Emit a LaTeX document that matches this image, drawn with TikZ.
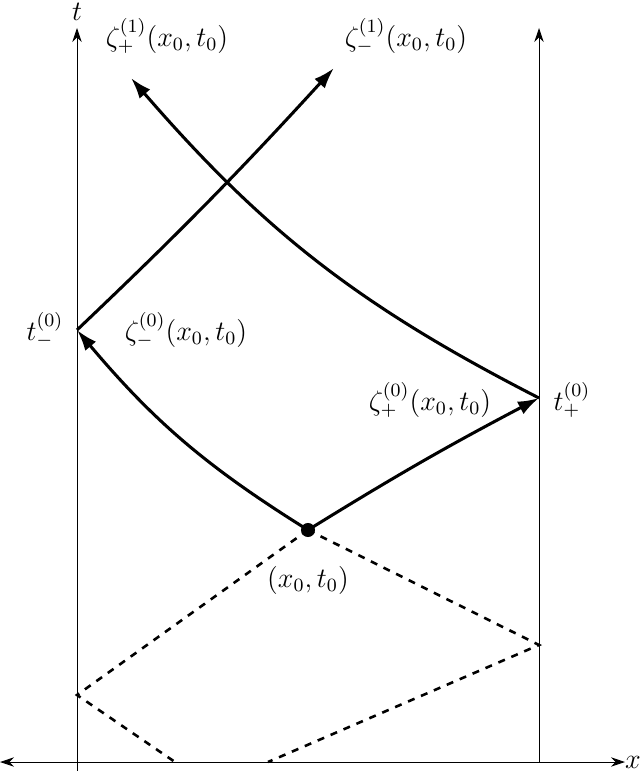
\documentclass[tikz,border=0pt]{standalone}
\usetikzlibrary{arrows.meta}
\begin{document}
\begin{tikzpicture}[x=0.015cm,y=-0.015cm,
 every node/.style={font=\large},
 axis/.style={line width=0.4pt,-{Stealth[length=6pt,width=4pt]}},
 ray/.style={line width=1.3pt,-{Latex[length=9pt,width=6pt]}},
 dashline/.style={line width=1.1pt,dashed}]
\useasboundingbox (0,0) rectangle (640,771);
\coordinate (xl) at (0,762); \coordinate (xr) at (625,762);
\coordinate (lb) at (77,771); \coordinate (lt) at (77,28);
\coordinate (rb) at (539,762); \coordinate (rt) at (539,28);
\draw[axis,{Stealth[length=6pt,width=4pt]}-{Stealth[length=6pt,width=4pt]}] (xl) -- (xr);
\draw[axis] (lb) -- (lt);
\draw[axis] (rb) -- (rt);
\node (xlab) at (633,762) {$x$};
\node (tlab) at (77,12) {$t$};
\coordinate (P) at (308,530);
\coordinate (Tm) at (77,330);
\coordinate (Tp) at (539,398);
\coordinate (A) at (131,78);
\coordinate (B) at (334,68);
\coordinate (D1) at (539,645);
\coordinate (D2) at (77,695);
\coordinate (E1) at (268,762);
\coordinate (E2) at (175,762);
\draw[ray] (P) to[bend left=9] (Tm);
\draw[ray] (P) to[bend left=2] (Tp);
\draw[ray] (Tp) to[bend left=11] (A);
\draw[ray] (Tm) to[bend right=2] (B);
\fill (P) circle (3pt);
\draw[dashline] (P) -- (D1) -- (E1);
\draw[dashline] (P) -- (D2) -- (E2);
\node (l1) at (45,330) {$t_-^{(0)}$};
\node (l2) at (186,330) {$\zeta_-^{(0)}(x_0,t_0)$};
\node (l3) at (430,400) {$\zeta_+^{(0)}(x_0,t_0)$};
\node (l4) at (572,400) {$t_+^{(0)}$};
\node (l5) at (308,580) {$(x_0,t_0)$};
\node (l6) at (167,36) {$\zeta_+^{(1)}(x_0,t_0)$};
\node (l7) at (406,36) {$\zeta_-^{(1)}(x_0,t_0)$};
\end{tikzpicture}
\end{document}
